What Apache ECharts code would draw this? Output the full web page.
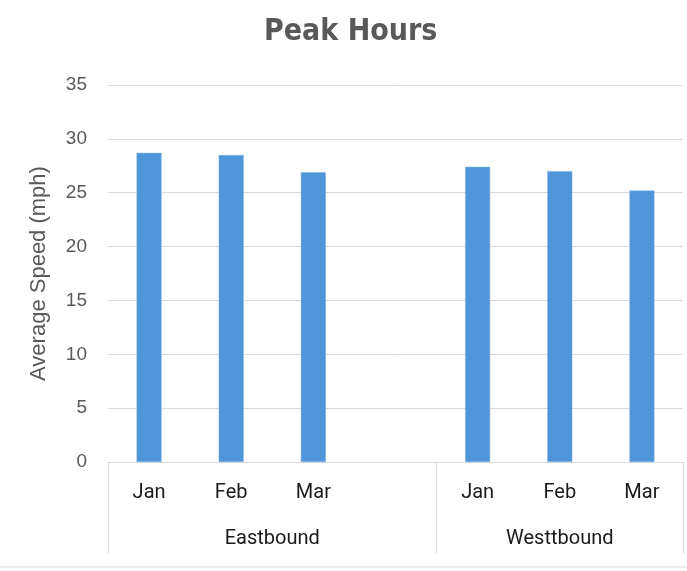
<!DOCTYPE html>
<html>
<head>
<meta charset="utf-8">
<script src="https://cdn.jsdelivr.net/npm/echarts@6/dist/echarts.min.js"></script>
<style>
html,body{margin:0;padding:0;background:#fff;}
#chart{width:687px;height:571px;}
</style>
</head>
<body>
<div id="chart"></div>
<script>
const titleText = 'Peak Hours';
const yAxisName = 'Average Speed (mph)';
const months = ['Jan', 'Feb', 'Mar'];
const groups = ['Eastbound', 'Westtbound'];
const eastValues = [28.7, 28.5, 26.9];
const westValues = [27.4, 27.0, 25.2];
const yTicks = [0, 5, 10, 15, 20, 25, 30, 35];

// month axis: Eastbound months + one spacer slot + Westbound months
const monthCats = months.concat(['']).concat(months);
const barData = eastValues.concat(['-']).concat(westValues);

// group axis in half-category units (15 points, boundaryGap false)
const nSlots = monthCats.length * 2 + 1;
const groupCats = [];
for (let i = 0; i < nSlots; i++) groupCats.push('');
const eastSpan = months.length + 1;
const westSpan = months.length;
groupCats[eastSpan] = groups[0];
groupCats[eastSpan * 2 + westSpan] = groups[1];
const boundaryIdx = [0, eastSpan * 2, nSlots - 1];

const chart = echarts.init(document.getElementById('chart'));
chart.setOption({
  animation: false,
  backgroundColor: '#fff',
  title: {
    text: titleText,
    left: 259,
    top: 12,
    textStyle: { fontFamily: 'DejaVu Sans Condensed', fontWeight: 'bold', fontSize: 30, color: '#595959' }
  },
  grid: { left: 108, right: 4, top: 85, bottom: 109, containLabel: false },
  xAxis: [
    {
      type: 'category',
      data: monthCats,
      axisLine: { show: true, lineStyle: { color: '#d9d9d9', width: 1 } },
      axisTick: { show: false },
      axisLabel: { interval: 0, margin: 21, fontFamily: 'Roboto', fontSize: 20, color: '#1a1a1a' }
    },
    {
      type: 'category',
      position: 'bottom',
      boundaryGap: false,
      data: groupCats,
      axisLine: { show: false },
      axisTick: {
        show: true,
        length: 91,
        interval: function (index) { return boundaryIdx.indexOf(index) >= 0; },
        lineStyle: { color: '#d9d9d9', width: 1 }
      },
      axisLabel: { interval: 0, margin: 67, fontFamily: 'Roboto', fontSize: 20, color: '#1a1a1a' }
    }
  ],
  yAxis: {
    type: 'value',
    min: yTicks[0],
    max: yTicks[yTicks.length - 1],
    interval: yTicks[1] - yTicks[0],
    name: yAxisName,
    nameLocation: 'middle',
    nameGap: 58,
    nameTextStyle: { fontFamily: 'Liberation Sans', fontSize: 22, color: '#595959' },
    axisLine: { show: false },
    axisTick: { show: false },
    axisLabel: { margin: 21, fontFamily: 'Liberation Sans', fontSize: 19, color: '#595959' },
    splitLine: { lineStyle: { color: '#d9d9d9', width: 1 } }
  },
  series: [{
    type: 'bar',
    xAxisIndex: 0,
    data: barData,
    barWidth: 25,
    itemStyle: { color: '#4e95d9', borderColor: '#7fb0e3', borderWidth: 0.5 }
  }],
  graphic: [{
    type: 'line',
    shape: { x1: 0, y1: 567, x2: 687, y2: 567 },
    style: { stroke: '#d9d9d9', lineWidth: 1 }
  }]
});
</script>
</body>
</html>
